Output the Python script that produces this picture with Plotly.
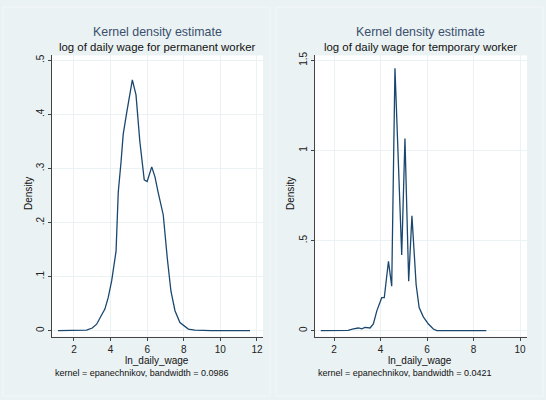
import plotly.graph_objects as go

# Permanent worker: kernel density of log daily wage
perm_x = [1.13, 2.0, 2.69, 3.0, 3.24, 3.51, 3.69, 3.87, 4.06, 4.30, 4.42, 4.57, 4.69, 4.88,
          5.19, 5.39, 5.6, 5.84, 6.0, 6.25, 6.43, 6.6, 6.88, 7.1, 7.3, 7.52, 7.79, 8.25,
          8.6, 9.5, 10.5, 11.62]
perm_y = [0.0, 0.0, 0.001, 0.005, 0.012, 0.029, 0.040, 0.061, 0.092, 0.147, 0.256, 0.311,
          0.363, 0.403, 0.464, 0.436, 0.35, 0.279, 0.276, 0.303, 0.284, 0.256, 0.214, 0.134,
          0.073, 0.037, 0.015, 0.003, 0.001, 0.0, 0.0, 0.0]

# Temporary worker: kernel density of log daily wage
temp_x = [1.43, 2.0, 2.6, 2.83, 3.05, 3.19, 3.33, 3.55, 3.69, 3.84, 3.98, 4.05, 4.16, 4.34,
          4.48, 4.62, 4.91, 5.05, 5.21, 5.35, 5.53, 5.66, 5.84, 6.06, 6.27, 6.42, 7.0, 8.0, 8.55]
temp_y = [0.0, 0.0, 0.002, 0.01, 0.015, 0.01, 0.018, 0.015, 0.037, 0.11, 0.165, 0.183, 0.183,
          0.385, 0.247, 1.456, 0.42, 1.066, 0.275, 0.637, 0.256, 0.128, 0.077, 0.037, 0.009,
          0.0, 0.0, 0.0, 0.0]

perm_xticks = [2, 4, 6, 8, 10, 12]
perm_yticks = [0, 0.1, 0.2, 0.3, 0.4, 0.5]
perm_ylabels = ["0", ".1", ".2", ".3", ".4", ".5"]
temp_xticks = [2, 4, 6, 8, 10]
temp_yticks = [0, 0.5, 1, 1.5]
temp_ylabels = ["0", ".5", "1", "1.5"]

LINE = "#1a476f"
BG = "#EAF2F3"
FONT = "Liberation Sans, Arial, sans-serif"
W, H = 546, 400

fig = go.Figure()
fig.add_trace(go.Scatter(x=perm_x, y=perm_y, mode="lines", line=dict(color=LINE, width=1.3),
                         xaxis="x", yaxis="y", showlegend=False))
fig.add_trace(go.Scatter(x=temp_x, y=temp_y, mode="lines", line=dict(color=LINE, width=1.3),
                         xaxis="x2", yaxis="y2", showlegend=False))

def px(v):
    return v / W

def py(v):
    return 1 - v / H

axis_common = dict(showline=True, linecolor="#444444", linewidth=1, ticks="outside",
                   ticklen=3, tickcolor="#444444", showgrid=True, gridcolor=BG,
                   gridwidth=1, zeroline=False, tickfont=dict(family=FONT, size=10, color="#222222"))

fig.update_layout(
    width=W, height=H, margin=dict(l=0, r=0, t=0, b=0),
    paper_bgcolor=BG, plot_bgcolor="white",
    xaxis=dict(domain=[px(52), px(263)], range=[0.8, 12.33], tickvals=perm_xticks,
               anchor="y", **axis_common),
    yaxis=dict(domain=[py(336), py(52)], range=[-0.011, 0.509], tickvals=perm_yticks,
               ticktext=perm_ylabels, tickangle=-90, anchor="x", **axis_common),
    xaxis2=dict(domain=[px(315), px(527)], range=[1.18, 10.30], tickvals=temp_xticks,
                anchor="y2", **axis_common),
    yaxis2=dict(domain=[py(336), py(52)], range=[-0.033, 1.527], tickvals=temp_yticks,
                ticktext=temp_ylabels, tickangle=-90, anchor="x2", **axis_common),
)

# panel frames
for x0, x1 in [(3, 270), (276, 543)]:
    fig.add_shape(type="rect", xref="paper", yref="paper", x0=px(x0), x1=px(x1),
                  y0=py(396), y1=py(3), line=dict(color="#F4F8F9", width=1),
                  fillcolor="rgba(0,0,0,0)", layer="below")

def ann(text, x, y, size, color="#111111", angle=0, xanchor="center"):
    fig.add_annotation(text=text, x=px(x), y=py(y), xref="paper", yref="paper",
                       showarrow=False, textangle=angle, xanchor=xanchor, yanchor="middle",
                       font=dict(family=FONT, size=size, color=color))

TITLE_C = "#3a4f6e"
ann("Kernel density estimate", 157, 28, 12.4, TITLE_C)
ann("log of daily wage for permanent worker", 157, 43, 11.4)
ann("Kernel density estimate", 420, 28, 12.4, TITLE_C)
ann("log of daily wage for temporary worker", 420, 43, 11.4)

ann("Density", 28, 192, 10, angle=-90)
ann("Density", 290, 192, 10, angle=-90)
ann("ln_daily_wage", 157, 360, 10)
ann("ln_daily_wage", 420, 360, 10)
ann("kernel = epanechnikov, bandwidth = 0.0986", 53, 373, 9, xanchor="left")
ann("kernel = epanechnikov, bandwidth = 0.0421", 316, 373, 9, xanchor="left")

fig.write_html("out.html")
